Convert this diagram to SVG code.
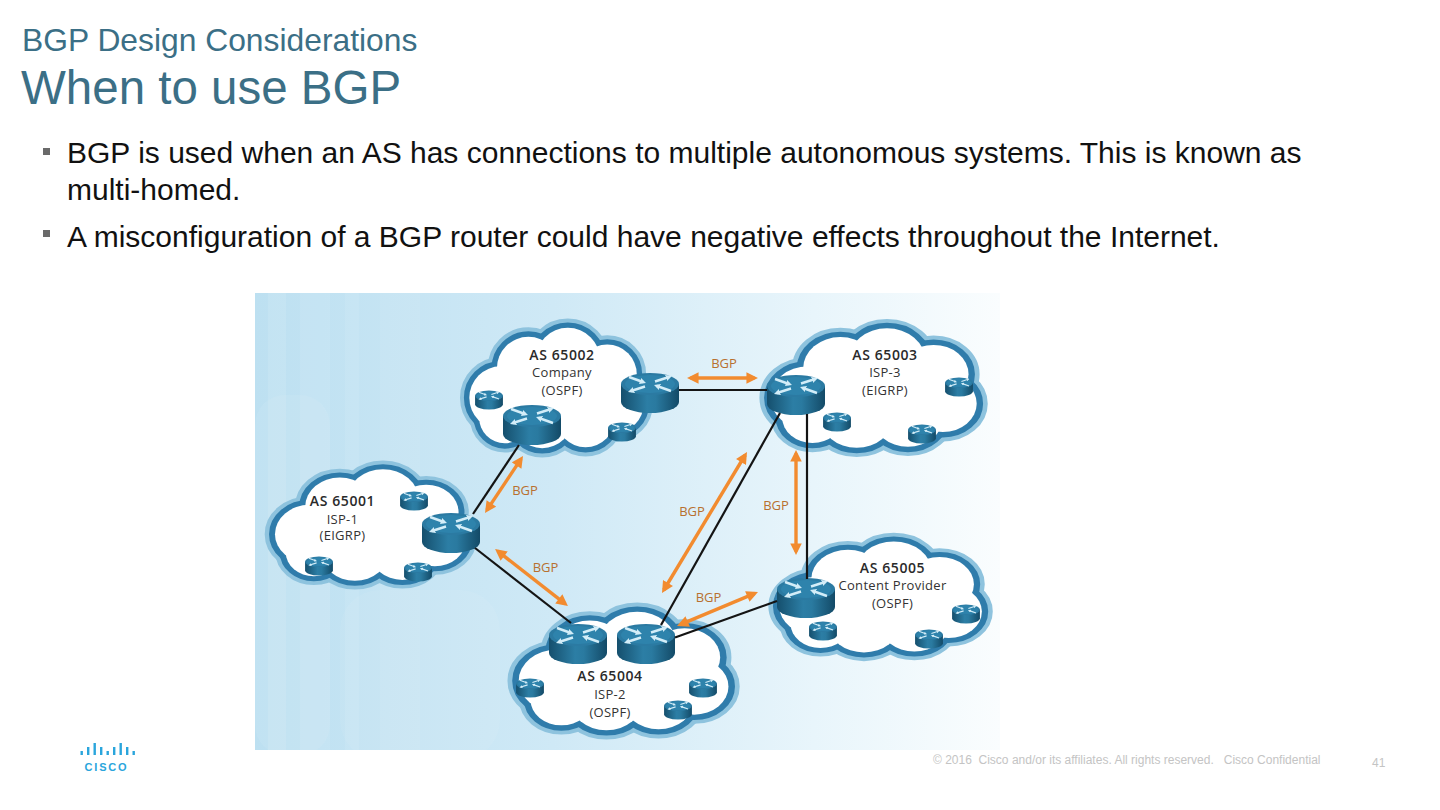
<svg xmlns="http://www.w3.org/2000/svg" width="1440" height="810" viewBox="0 0 1440 810">
<defs>
<style>
.t1{font-family:"Liberation Sans",Arial,sans-serif;fill:#3b6f86}
.b{font-family:"Liberation Sans",Arial,sans-serif;font-size:30px;fill:#111}
.as{font-family:"Open Sans","Liberation Sans",sans-serif;font-size:14px;font-weight:600;fill:#2a2a2a;text-anchor:middle;letter-spacing:0.6px}
.sub{font-family:"Open Sans","Liberation Sans",sans-serif;font-size:13px;fill:#333;text-anchor:middle;letter-spacing:0.3px}
.bgp{font-family:"Open Sans","Liberation Sans",sans-serif;font-size:13px;fill:#b8702f;text-anchor:middle}
.link{stroke:#141414;stroke-width:2.2;fill:none}
.arr{stroke:#f28b2f;stroke-width:3.4;fill:none;marker-start:url(#ah);marker-end:url(#ah)}
.ft{font-family:"Liberation Sans",Arial,sans-serif;font-size:12px;fill:#c4c4c4;white-space:pre}
</style>
<linearGradient id="bg" x1="0" y1="0" x2="1" y2="0">
<stop offset="0" stop-color="#bde0f1"/>
<stop offset="0.4" stop-color="#cfe9f6"/>
<stop offset="0.75" stop-color="#e8f5fb"/>
<stop offset="1" stop-color="#fafdfe"/>
</linearGradient>
<linearGradient id="side" x1="0" y1="0" x2="1" y2="0">
<stop offset="0" stop-color="#154f6d"/>
<stop offset="0.45" stop-color="#2c7ea5"/>
<stop offset="0.6" stop-color="#2a7aa0"/>
<stop offset="1" stop-color="#134a67"/>
</linearGradient>
<marker id="ah" viewBox="0 0 10 10" refX="7" refY="5" markerWidth="3.6" markerHeight="3.4" orient="auto-start-reverse" markerUnits="strokeWidth"><path d="M0,0 L10,5 L0,10 z" fill="#f28b2f"/></marker>
<marker id="rh" viewBox="0 0 10 10" refX="5" refY="5" markerWidth="2.6" markerHeight="2.8" orient="auto"><path d="M0,0 L10,5 L0,10 z" fill="#d3edf8"/></marker>
<g id="rt">
<path d="M-29,-9 V9 A29,11 0 0 0 29,9 V-9 Z" fill="url(#side)"/>
<ellipse cx="0" cy="-9" rx="29" ry="11" fill="#2b7aa2"/>
<ellipse cx="0" cy="-9" rx="25" ry="9" fill="#3189b2" opacity="0.6"/>
<g stroke="#d3edf8" stroke-width="2.4" fill="none" marker-end="url(#rh)">
<path d="M-21,-16 L-7,-11"/>
<path d="M21,-2 L7,-7"/>
<path d="M5,-11.5 L19,-16"/>
<path d="M-5,-6.5 L-19,-2"/>
</g>
</g>
<g id="cl">
<circle cx="-56" cy="10" r="32"/>
<circle cx="-52" cy="30" r="26"/>
<circle cx="-28" cy="-20" r="32"/>
<circle cx="12" cy="-28" r="33"/>
<circle cx="52" cy="-14" r="30"/>
<circle cx="60" cy="16" r="29"/>
<circle cx="30" cy="30" r="30"/>
<circle cx="-14" cy="30" r="31"/>
<circle cx="0" cy="2" r="48"/>
</g>
<g id="cloud">
<use href="#cl" fill="#8ec3de" stroke="#8ec3de" stroke-width="19"/>
<use href="#cl" fill="#2f7cab" stroke="#2f7cab" stroke-width="11"/>
<use href="#cl" fill="#ffffff"/>
</g>
</defs>

<rect width="1440" height="810" fill="#ffffff"/>

<g id="title">
<text class="t1" x="22" y="51" font-size="31.8">BGP Design Considerations</text>
<text class="t1" x="21" y="104" font-size="47.5">When to use BGP</text>
</g>

<g id="bullets">
<rect x="43" y="148" width="7" height="7" fill="#6a6a6a"/>
<text class="b" x="67" y="163">BGP is used when an AS has connections to multiple autonomous systems. This is known as</text>
<text class="b" x="67" y="200">multi-homed.</text>
<rect x="43" y="230" width="7" height="7" fill="#6a6a6a"/>
<text class="b" x="67" y="247">A misconfiguration of a BGP router could have negative effects throughout the Internet.</text>
</g>

<g id="backdrop">
<rect x="255" y="293" width="745" height="457" fill="url(#bg)"/>
<rect x="268" y="293" width="18" height="457" fill="#ffffff" opacity="0.1"/>
<rect x="300" y="293" width="30" height="457" fill="#ffffff" opacity="0.08"/>
<rect x="345" y="293" width="14" height="457" fill="#ffffff" opacity="0.08"/>
<rect x="380" y="293" width="40" height="457" fill="#ffffff" opacity="0.06"/>
<rect x="255" y="395" width="75" height="360" rx="30" fill="#ffffff" opacity="0.07"/>
<rect x="340" y="590" width="160" height="170" rx="40" fill="#ffffff" opacity="0.06"/>
</g>

<g id="as65002">
<use href="#cloud" transform="translate(556,388) scale(0.985,0.986)"/>
<use href="#rt" transform="translate(489,400) scale(0.48)"/>
<use href="#rt" transform="translate(622,432) scale(0.48)"/>
<use href="#rt" transform="translate(650,393)"/>
<use href="#rt" transform="translate(532,425)"/>
<text class="as" x="562" y="360">AS 65002</text>
<text class="sub" x="562" y="376.5">Company</text>
<text class="sub" x="562" y="395">(OSPF)</text>
</g>

<g id="as65003">
<use href="#cloud" transform="translate(873,388) scale(1.165,0.98)"/>
<use href="#rt" transform="translate(959,387) scale(0.48)"/>
<use href="#rt" transform="translate(837,422) scale(0.48)"/>
<use href="#rt" transform="translate(922,434) scale(0.48)"/>
<use href="#rt" transform="translate(796,395)"/>
<text class="as" x="885" y="359.5">AS 65003</text>
<text class="sub" x="885" y="376.5">ISP-3</text>
<text class="sub" x="885" y="395">(EIGRP)</text>
</g>

<g id="as65001">
<use href="#cloud" transform="translate(370,525) scale(1.08,0.915)"/>
<use href="#rt" transform="translate(414,501) scale(0.48)"/>
<use href="#rt" transform="translate(319,566) scale(0.48)"/>
<use href="#rt" transform="translate(418,572) scale(0.48)"/>
<use href="#rt" transform="translate(451,533)"/>
<text class="as" x="342.5" y="506">AS 65001</text>
<text class="sub" x="342.5" y="523.5">ISP-1</text>
<text class="sub" x="342.5" y="540">(EIGRP)</text>
</g>

<g id="as65005">
<use href="#cloud" transform="translate(880,597) scale(1.145,0.91)"/>
<use href="#rt" transform="translate(823,631) scale(0.48)"/>
<use href="#rt" transform="translate(929,639) scale(0.48)"/>
<use href="#rt" transform="translate(966,614) scale(0.48)"/>
<use href="#rt" transform="translate(806,598)"/>
<text class="as" x="892.5" y="572.5">AS 65005</text>
<text class="sub" x="892.5" y="590">Content Provider</text>
<text class="sub" x="892.5" y="608">(OSPF)</text>
</g>

<g id="as65004">
<use href="#cloud" transform="translate(623,671) scale(1.185,0.97)"/>
<use href="#rt" transform="translate(530,688) scale(0.48)"/>
<use href="#rt" transform="translate(703,688) scale(0.48)"/>
<use href="#rt" transform="translate(678,710) scale(0.48)"/>
<use href="#rt" transform="translate(578,644)"/>
<use href="#rt" transform="translate(646,644)"/>
<text class="as" x="610" y="681">AS 65004</text>
<text class="sub" x="610" y="699">ISP-2</text>
<text class="sub" x="610" y="717">(OSPF)</text>
</g>

<g id="connectors">
<path class="link" d="M519,445 L473,514"/>
<path class="link" d="M679,390 L767,390"/>
<path class="link" d="M780,413 L661,625"/>
<path class="link" d="M807,414 L807,579"/>
<path class="link" d="M777,601 L675,637.5"/>
<path class="link" d="M475,548 L571,623"/>
<path class="arr" d="M690.5,378 L754.5,378"/>
<path class="arr" d="M521.1,458.9 L486.9,510.1"/>
<path class="arr" d="M497.8,551.2 L565.2,603.8"/>
<path class="arr" d="M745.2,455 L663.8,590"/>
<path class="arr" d="M796,453.5 L796,551.5"/>
<path class="arr" d="M754.8,593.4 L680.2,624.6"/>
<text class="bgp" x="724" y="368">BGP</text>
<text class="bgp" x="525" y="495">BGP</text>
<text class="bgp" x="545.5" y="572">BGP</text>
<text class="bgp" x="692" y="516">BGP</text>
<text class="bgp" x="776" y="510">BGP</text>
<text class="bgp" x="708.5" y="602">BGP</text>
</g>

<g id="logo" fill="#2aa5dc">
<rect x="80.5" y="751" width="2.4" height="4"/>
<rect x="87" y="747" width="2.4" height="8"/>
<rect x="93.5" y="743" width="2.4" height="12"/>
<rect x="100" y="747" width="2.4" height="8"/>
<rect x="106.5" y="751" width="2.4" height="4"/>
<rect x="113" y="747" width="2.4" height="8"/>
<rect x="119.5" y="743" width="2.4" height="12"/>
<rect x="126" y="747" width="2.4" height="8"/>
<rect x="132.5" y="751" width="2.4" height="4"/>
<text x="106.5" y="770.5" font-family="Liberation Sans,Arial,sans-serif" font-size="11" font-weight="bold" letter-spacing="1.8" text-anchor="middle">CISCO</text>
</g>

<g id="footer">
<text class="ft" x="933" y="764" xml:space="preserve">© 2016  Cisco and/or its affiliates. All rights reserved.   Cisco Confidential</text>
<text class="ft" x="1372" y="767">41</text>
</g>
</svg>
